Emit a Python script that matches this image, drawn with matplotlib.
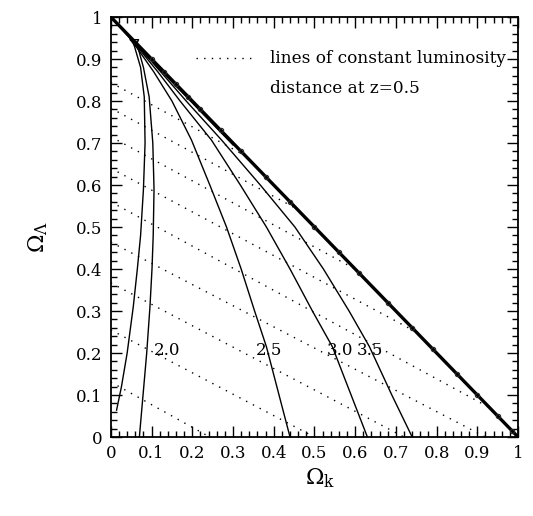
import matplotlib
matplotlib.use("Agg")
import matplotlib.pyplot as plt
from matplotlib.ticker import MultipleLocator, FuncFormatter

# dotted lines of constant luminosity distance at z=0.5 (start on the left axis, end on axis/diagonal)
dot_start_y = [0.131, 0.255, 0.367, 0.464, 0.560, 0.640, 0.715, 0.783, 0.844]
dot_end_x = [0.243, 0.500, 0.720, 0.920, 0.930, 0.750, 0.600, 0.457, 0.330]
dot_end_y = [0.0, 0.0, 0.0, 0.0, 0.070, 0.250, 0.400, 0.543, 0.670]

# solid contours (x = Omega_k, y = Omega_Lambda)
c20_left_x = [0.055, 0.073, 0.082, 0.084, 0.080, 0.073, 0.065, 0.055, 0.040, 0.026, 0.014]
c20_left_y = [0.940, 0.880, 0.810, 0.700, 0.590, 0.480, 0.400, 0.310, 0.200, 0.120, 0.064]
c20_right_x = [0.063, 0.080, 0.094, 0.103, 0.106, 0.104, 0.101, 0.096, 0.088, 0.079, 0.070]
c20_right_y = [0.940, 0.880, 0.810, 0.700, 0.590, 0.480, 0.400, 0.310, 0.200, 0.100, 0.000]

c_y = [0.0, 0.1, 0.215, 0.3, 0.4, 0.5, 0.6, 0.707, 0.8, 0.87, 0.935]
c25_x = [0.440, 0.413, 0.382, 0.353, 0.320, 0.284, 0.243, 0.198, 0.150, 0.105, 0.058]
c30_x = [0.630, 0.590, 0.544, 0.495, 0.440, 0.382, 0.318, 0.247, 0.170, 0.115, 0.060]
c35_x = [0.740, 0.690, 0.635, 0.585, 0.522, 0.452, 0.367, 0.272, 0.185, 0.122, 0.063]

# small closed tip where the contours meet
tip_x = [0.048, 0.068, 0.060, 0.048]
tip_y = [0.946, 0.946, 0.930, 0.946]

# bumps of scattered points along the Omega_m = 0 diagonal
blob_x = [0.10, 0.13, 0.16, 0.19, 0.22, 0.27, 0.32, 0.38, 0.44, 0.50, 0.56,
          0.61, 0.68, 0.74, 0.79, 0.85, 0.90, 0.95, 0.985]

contour_labels = ["2.0", "2.5", "3.0", "3.5"]
label_x = [0.105, 0.355, 0.530, 0.605]
label_y = [0.207, 0.207, 0.207, 0.207]

plt.rcParams["font.family"] = ["DejaVu Serif"]
plt.rcParams["mathtext.fontset"] = "dejavuserif"

fig = plt.figure(figsize=(5.33, 5.16), dpi=100)
ax = fig.add_axes([0.208, 0.153, 0.764, 0.814])

for y0, x1, y1 in zip(dot_start_y, dot_end_x, dot_end_y):
    ax.plot([0.0, x1], [y0, y1], color="black", lw=1.0, linestyle=(0, (1, 4.5)))

for xs, ys in [(c20_left_x, c20_left_y), (c20_right_x, c20_right_y),
               (c25_x, c_y), (c30_x, c_y), (c35_x, c_y), (tip_x, tip_y)]:
    ax.plot(xs, ys, color="black", lw=1.0)

# thin line from the corner to the tip, and the thick diagonal
ax.plot([0.0, 0.055], [1.0, 0.94], color="black", lw=0.9)
ax.plot([0.0, 1.0], [1.0, 0.0], color="black", lw=2.4, solid_capstyle="butt")
ax.plot([0.08, 0.30], [0.915, 0.695], color="black", lw=0.8)
ax.plot(blob_x, [1 - b for b in blob_x], linestyle="none", marker="o", ms=3,
        mfc="none", mec="0.15", mew=0.9)

for txt, lx, ly in zip(contour_labels, label_x, label_y):
    ax.text(lx, ly, txt, fontsize=12, ha="left", va="center")

# legend
ax.plot([0.21, 0.36], [0.902, 0.902], color="black", lw=1.0, linestyle=(0, (1, 4.5)))
ax.text(0.39, 0.902, "lines of constant luminosity", fontsize=12.2, va="center")
ax.text(0.39, 0.831, "distance at z=0.5", fontsize=12.2, va="center")

ax.set_xlim(0, 1)
ax.set_ylim(0, 1)
fmt = FuncFormatter(lambda v, p: "%g" % round(v, 1))
for axis in (ax.xaxis, ax.yaxis):
    axis.set_major_locator(MultipleLocator(0.1))
    axis.set_minor_locator(MultipleLocator(0.02))
    axis.set_major_formatter(fmt)
ax.tick_params(which="both", direction="in", top=True, right=True, width=1.0)
ax.tick_params(which="major", length=8, labelsize=12, pad=6)
ax.tick_params(which="minor", length=4)
for s in ax.spines.values():
    s.set_linewidth(1.3)

fig.text(0.60, 0.074, r"$\Omega_{\rm k}$", fontsize=16, ha="center", va="center")
fig.text(0.072, 0.54, r"$\Omega_\Lambda$", fontsize=16, ha="center", va="center",
         rotation=90)

fig.savefig("out.png", dpi=100)
